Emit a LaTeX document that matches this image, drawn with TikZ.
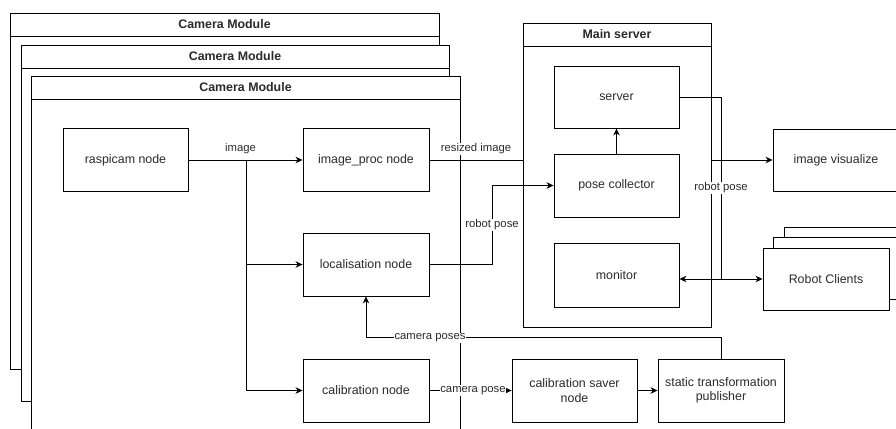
\documentclass[tikz,border=0pt]{standalone}
\usepackage{fontspec}
\setmainfont{Liberation Sans}
\usetikzlibrary{arrows.meta,calc}
\definecolor{txt}{HTML}{2B2B2B}
\begin{document}
\begin{tikzpicture}[x=1pt,y=-1pt,line width=0.9pt,
  wh/.style 2 args={minimum width=#1pt,minimum height=#2pt},
  box/.style={draw,fill=white,inner sep=0pt,text=txt,align=center,
    font=\fontsize{12.4}{14.5}\selectfont},
  lane/.style={draw,fill=white,inner sep=0pt},
  head/.style={inner sep=0pt,text=txt,font=\bfseries\fontsize{12.4}{14.5}\selectfont},
  elabel/.style={fill=white,inner sep=0.8pt,text=txt,font=\fontsize{11.3}{13}\selectfont},
  arr/.style={-{Stealth[length=7pt,width=6.5pt,inset=2.2pt]}},
  darr/.style={{Stealth[length=7pt,width=6.5pt,inset=2.2pt]}-{Stealth[length=7pt,width=6.5pt,inset=2.2pt]}},
]
\useasboundingbox (0,0) rectangle (896,428);
\clip (0,0) rectangle (896,428);

% camera modules (stacked)
\node[lane,wh={429}{356}] (cam1) at (224.5,191) {};
\draw ($(cam1.north west)+(0,24)$) -- ($(cam1.north east)+(0,24)$);
\node[head] (cam1t) at ($(cam1.north)+(0,12)$) {Camera Module};
\node[lane,wh={428}{356}] (cam2) at (235,223) {};
\draw ($(cam2.north west)+(0,24)$) -- ($(cam2.north east)+(0,24)$);
\node[head] (cam2t) at ($(cam2.north)+(0,12)$) {Camera Module};
\node[lane,wh={429}{356}] (cam3) at (245.5,254) {};
\draw ($(cam3.north west)+(0,24)$) -- ($(cam3.north east)+(0,24)$);
\node[head] (cam3t) at ($(cam3.north)+(0,12)$) {Camera Module};

% main server
\node[lane,wh={188}{304}] (main) at (617,175) {};
\draw ($(main.north west)+(0,24)$) -- ($(main.north east)+(0,24)$);
\node[head] (maint) at ($(main.north)+(0,12)$) {Main server};

% nodes in camera module
\node[box,wh={125}{63}] (rasp) at (125.5,160) {raspicam node};
\node[box,wh={126}{63}] (improc) at (366,160) {image\_proc node};
\node[box,wh={126}{63}] (loc) at (366,264.5) {localisation node};
\node[box,wh={126}{63}] (calib) at (366,390.5) {calibration node};
\node[box,wh={125}{63}] (saver) at (574.5,390.5) {calibration saver\\node};
\node[box,wh={126}{63}] (static) at (721,390.5) {static transformation\\publisher};

% nodes in main server
\node[box,wh={125}{62}] (server) at (616.5,97) {server};
\node[box,wh={125}{63}] (pc) at (616.5,185.5) {pose collector};
\node[box,wh={125}{64}] (mon) at (616.5,275) {monitor};

% right side
\node[box,wh={126}{62}] (imgvis) at (836,160) {image visualize};
\node[box,wh={126}{62}] (rc3) at (847,258) {};
\node[box,wh={126}{62}] (rc2) at (836,268.5) {};
\node[box,wh={126}{62}] (rc1) at (826,279) {Robot Clients};

% connectors
\draw[arr] (rasp) -- (improc);
\node[elabel] (limage) at (240.5,149) {image};
\coordinate (br) at (246,160);
\draw[arr] (br) |- (loc.west);
\draw[arr] (br) |- (calib.west);

\draw (improc.east) -- (improc.east -| main.west);
\draw[arr] (imgvis.west -| main.east) -- (imgvis.west);
\node[elabel] (lresized) at (476,149) {resized image};

\draw[arr] (loc.east) -- ++(63,0) |- (pc.west);
\node[elabel] (lrp1) at (492,225) {robot pose};

\draw[arr] (pc) -- (server);

\coordinate (sj) at (721,279);
\draw (server.east) -| (sj);
\draw[darr] (rc1.west -| mon.east) -- (rc1.west);
\node[elabel] (lrp2) at (721,188) {robot pose};

\draw[arr] (calib) -- (saver);
\node[elabel] (lcp) at (473,390.5) {camera pose};
\draw[arr] (saver) -- (static);

\draw[arr] (static.north) -- ++(0,-21) -| (loc.south);
\node[elabel] (lcps) at (430,338) {camera poses};
\end{tikzpicture}
\end{document}
